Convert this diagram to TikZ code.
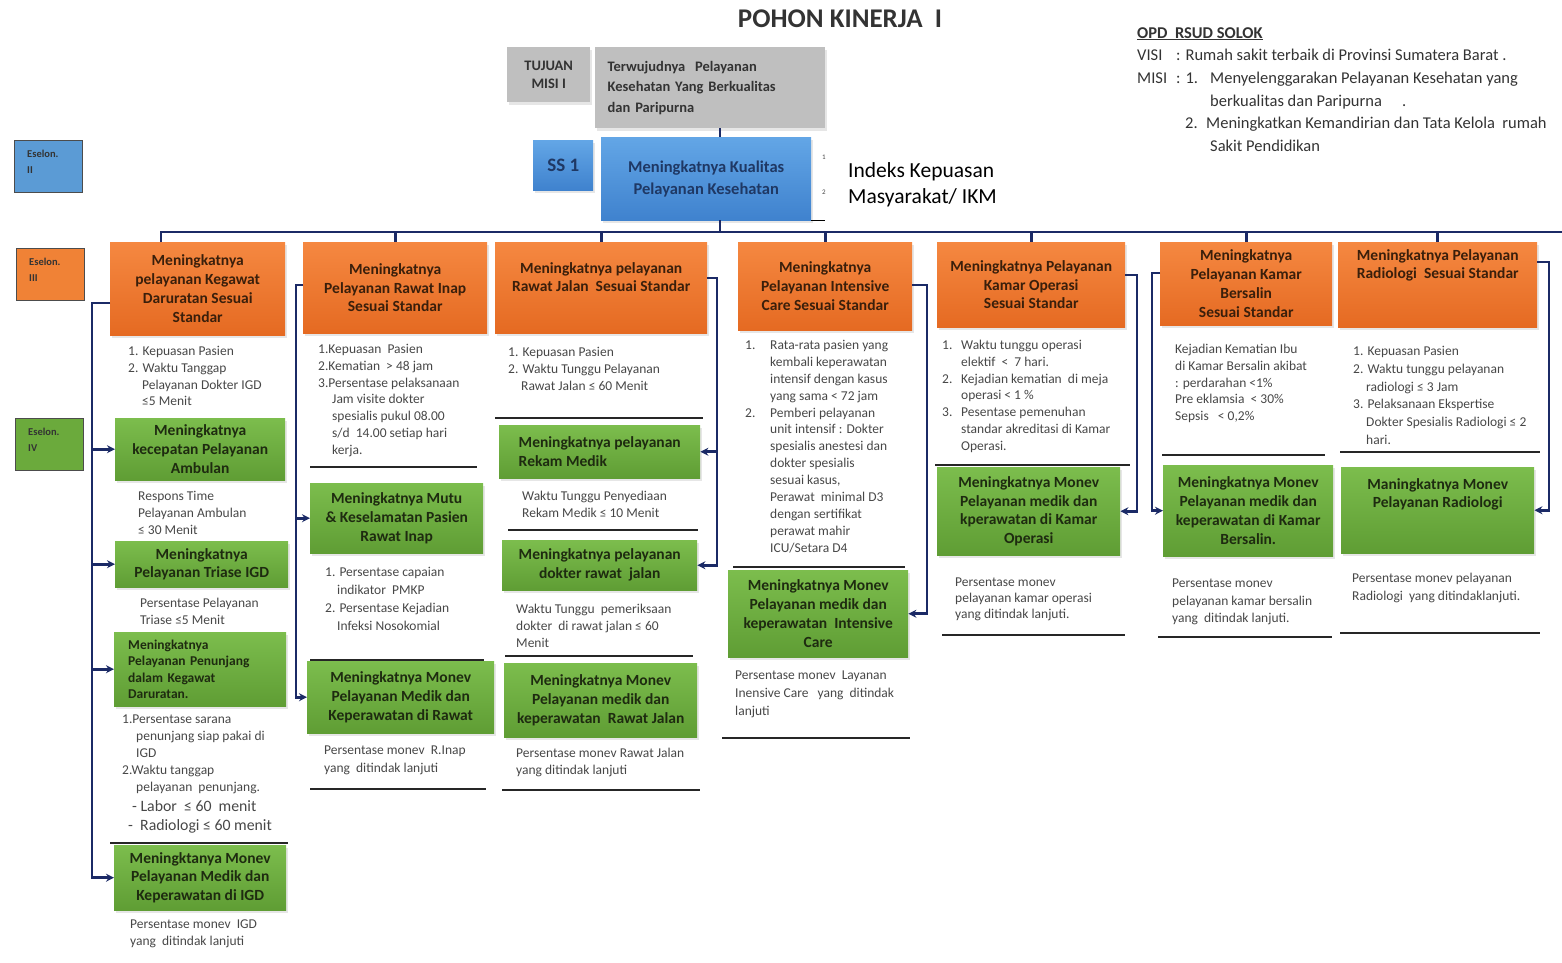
\documentclass[tikz,border=0pt]{standalone}
\usepackage{fontspec}
\setmainfont{Carlito}
\usetikzlibrary{arrows.meta,shadows}
\definecolor{oranyeA}{HTML}{F58841}
\definecolor{oranyeB}{HTML}{E56A22}
\definecolor{hijauA}{HTML}{7CBD4D}
\definecolor{hijauB}{HTML}{5F9D34}
\definecolor{biruA}{HTML}{63A6E6}
\definecolor{biruB}{HTML}{3F82CE}
\definecolor{biruE}{HTML}{5B9BD5}
\definecolor{oranyeE}{HTML}{F08236}
\definecolor{hijauE}{HTML}{6BAA3C}
\definecolor{abuK}{HTML}{BFBFBF}
\definecolor{navy}{HTML}{1B2A66}
\definecolor{teksO}{HTML}{3A1F0B}
\definecolor{teksH}{HTML}{1E2B10}
\definecolor{teksB}{HTML}{1F3864}
\definecolor{teksA}{HTML}{333333}
\definecolor{abuT}{HTML}{474747}
\newcommand{\nmr}[2][16pt]{\makebox[#1][l]{#2}}
\newcommand{\ssp}[1][16pt]{\hspace*{#1}}

\begin{document}
\begin{tikzpicture}[x=1pt,y=-1pt,
    kotak/.style={anchor=north west, inner sep=2pt, align=center,
      font=\fontsize{15.5}{18.8}\selectfont\bfseries,
      drop shadow={opacity=0.2,shadow xshift=1.5pt,shadow yshift=-2.5pt}},
    oranye/.style={kotak, top color=oranyeA, bottom color=oranyeB, text=teksO},
    hijau/.style={kotak, top color=hijauA, bottom color=hijauB, text=teksH},
    biru/.style={kotak, top color=biruA, bottom color=biruB, text=teksB},
    abu/.style={kotak, fill=abuK, text=teksA, font=\fontsize{14.5}{20.5}\selectfont\bfseries},
    kteks/.style={anchor=north, inner sep=0pt, align=center, font=\fontsize{15.5}{18.8}\selectfont\bfseries},
    eselon/.style={anchor=north west, draw=black!70, line width=1pt, minimum width=68, minimum height=52},
    eteks/.style={anchor=north west, inner sep=0pt, align=left, text=teksA, font=\fontsize{10.5}{16}\selectfont\bfseries},
    ket/.style={anchor=north west, inner sep=0pt, align=left, text=abuT, font=\fontsize{13.5}{16.8}\selectfont},
    garis/.style={line width=1.4pt, black!85},
    conn/.style={draw=navy, line width=2.8pt},
    panah/.style={conn, -{Stealth[length=8pt,width=8pt]}}]
\useasboundingbox (0,0) rectangle (1562,962);

% judul dan visi misi
\node[font=\fontsize{27}{30}\selectfont\bfseries, text=teksA] (judul) at (840,19) {POHON KINERJA\ \ I};
\node[anchor=north west, inner sep=0pt, align=left, text=teksA, font=\fontsize{16.5}{22.7}\selectfont] (visi) at (1137,27) {%
  \textbf{\underline{OPD\ \ RSUD SOLOK}}\\
  \makebox[39pt][l]{VISI}: Rumah sakit terbaik di Provinsi Sumatera Barat .\\
  \makebox[39pt][l]{MISI}\makebox[34pt][l]{: 1.}Menyelenggarakan Pelayanan Kesehatan yang\\
  \ssp[73pt]berkualitas dan Paripurna\quad\ .\\
  \ssp[48pt]\makebox[21pt][l]{2.}Meningkatkan Kemandirian dan Tata Kelola\ \ rumah\\
  \ssp[73pt]Sakit Pendidikan};

% eselon
\node[eselon, fill=biruE] (e2) at (14,140) {};
\node[eteks] (e2t) at ([shift={(13,10)}]e2.north west) {Eselon.\\ II};
\node[eselon, fill=oranyeE] (e3) at (16,248) {};
\node[eteks] (e3t) at ([shift={(13,10)}]e3.north west) {Eselon.\\ III};
\node[eselon, fill=hijauE] (e4) at (15,418) {};
\node[eteks] (e4t) at ([shift={(13,10)}]e4.north west) {Eselon.\\ IV};

% tujuan dan sasaran strategis
\node[abu, minimum width=83, minimum height=55, font=\fontsize{14.5}{18}\selectfont\bfseries] (tuj) at (507,47) {TUJUAN\\MISI I};
\node[abu, minimum width=230, minimum height=81, align=left, text width=205] (terw) at (595,47) {Terwujudnya\ \ Pelayanan\\Kesehatan Yang Berkualitas\\dan Paripurna};
\node[biru, minimum width=60, minimum height=50, font=\fontsize{19}{22}\selectfont\bfseries] (ss) at (533,140) {SS 1};
\node[biru, minimum width=210, minimum height=83, font=\fontsize{16.5}{22}\selectfont\bfseries] (kual) at (601,137) {Meningkatnya Kualitas\\Pelayanan Kesehatan};
\node[font=\fontsize{7}{8}\selectfont, text=abuT] (n1) at (824,157) {1};
\node[font=\fontsize{7}{8}\selectfont, text=abuT] (n2) at (824,192) {2};
\draw[line width=1pt] (kual.south east) -- ++(14,0);
\node[anchor=north west, inner sep=0pt, align=left, font=\fontsize{21.5}{26}\selectfont] (ikm) at (848,162) {Indeks Kepuasan\\Masyarakat/ IKM};

% kolom 1
\node[oranye, minimum width=175, minimum height=93] (o1) at (110,242) {Meningkatnya\\pelayanan Kegawat\\Daruratan Sesuai\\Standar};
\node[ket] (k1) at (128,346) {1. Kepuasan Pasien\\2. Waktu Tanggap\\\ssp[14pt]Pelayanan Dokter IGD\\\ssp[14pt]≤5 Menit};
\node[hijau, minimum width=170, minimum height=62] (g1a) at (115,418) {Meningkatnya\\kecepatan Pelayanan\\Ambulan};
\node[ket] (k1a) at (138,491) {Respons Time\\Pelayanan Ambulan\\≤ 30 Menit};
\node[hijau, minimum width=173, minimum height=46] (g1b) at (115,541) {Meningkatnya\\Pelayanan Triase IGD};
\node[ket] (k1b) at (140,598) {Persentase Pelayanan\\Triase ≤5 Menit};
\node[hijau, minimum width=172, minimum height=74, align=left, text width=144, font=\fontsize{13.5}{16.5}\selectfont\bfseries] (g1c) at (114,632) {Meningkatnya\\Pelayanan Penunjang\\dalam Kegawat\\Daruratan.};
\node[ket, font=\fontsize{13.5}{17}\selectfont] (k1c) at (122,715) {1.Persentase sarana\\\ssp[14pt]penunjang siap pakai di\\\ssp[14pt]IGD\\2.Waktu tanggap\\\ssp[14pt]pelayanan\ \ penunjang.};
\node[ket, font=\fontsize{15.8}{19.5}\selectfont] (k1d) at (128,800) {\ssp[4pt]- Labor\ \ ≤ 60\ \ menit\\-\ \ Radiologi\ ≤ 60 menit};
\draw[garis] (110,843) -- (288,843);
\node[hijau, minimum width=172, minimum height=65] (g1d) at (114,845) {Meningktanya Monev\\Pelayanan Medik dan\\Keperawatan di IGD};
\node[ket] (k1e) at (130,920) {Persentase monev\ \ IGD\\yang\ \ ditindak lanjuti};

% kolom 2
\node[oranye, minimum width=184, minimum height=91] (o2) at (303,242) {Meningkatnya\\Pelayanan Rawat Inap\\Sesuai Standar};
\node[ket] (k2) at (318,344) {1.Kepuasan\ \ Pasien\\2.Kematian\ \ > 48 jam\\3.Persentase pelaksanaan\\\ssp[14pt]Jam visite dokter\\\ssp[14pt]spesialis pukul 08.00\\\ssp[14pt]s/d\ \ 14.00 setiap hari\\\ssp[14pt]kerja.};
\draw[garis] (310,467) -- (477,467);
\node[hijau, minimum width=173, minimum height=70] (g2a) at (310,483) {Meningkatnya Mutu\\\& Keselamatan Pasien\\Rawat Inap};
\node[ket, font=\fontsize{13.5}{18}\selectfont] (k2a) at (325,567) {1. Persentase capaian\\\ssp[12pt]indikator\ \ PMKP\\2. Persentase Kejadian\\\ssp[12pt]Infeksi Nosokomial};
\draw[garis] (310,660) -- (484,660);
\node[hijau, minimum width=187, minimum height=72] (g2b) at (307,661) {Meningkatnya Monev\\Pelayanan Medik dan\\Keperawatan di Rawat};
\node[ket, font=\fontsize{13.5}{18}\selectfont] (k2b) at (324,746) {Persentase monev\ \ R.Inap\\yang\ \ ditindak lanjuti};
\draw[garis] (310,789) -- (486,789);

% kolom 3
\node[oranye, minimum width=212, minimum height=91] (o3) at (495,242) {};
\node[kteks, text=teksO] (o3t) at ([shift={(0,20)}]o3.north) {Meningkatnya pelayanan\\Rawat Jalan\ \ Sesuai Standar};
\node[ket] (k3) at (508,347) {1. Kepuasan Pasien\\2. Waktu Tunggu Pelayanan\\\ssp[13pt]Rawat Jalan ≤ 60 Menit};
\draw[garis] (495,418) -- (703,418);
\node[hijau, minimum width=201, minimum height=53, align=left] (g3a) at (499,425) {Meningkatnya pelayanan\\Rekam Medik};
\node[ket] (k3a) at (522,491) {Waktu Tunggu Penyediaan\\Rekam Medik ≤ 10 Menit};
\draw[garis] (508,530) -- (698,530);
\node[hijau, minimum width=195, minimum height=50] (g3b) at (502,540) {Meningkatnya pelayanan\\dokter rawat\ \ jalan};
\node[ket] (k3b) at (516,604) {Waktu Tunggu\ \ pemeriksaan\\dokter\ \ di rawat jalan ≤ 60\\Menit};
\draw[garis] (505,656) -- (693,656);
\node[hijau, minimum width=193, minimum height=74] (g3c) at (504,663) {Meningkatnya Monev\\Pelayanan medik dan\\keperawatan\ \ Rawat Jalan};
\node[ket] (k3c) at (516,748) {Persentase monev Rawat Jalan\\yang ditindak lanjuti};
\draw[garis] (502,790) -- (700,790);

% kolom 4
\node[oranye, minimum width=174, minimum height=88] (o4) at (738,242) {Meningkatnya\\Pelayanan Intensive\\Care Sesuai Standar};
\node[ket, font=\fontsize{13.5}{16.9}\selectfont] (k4) at (745,340) {\nmr[25pt]{1.}Rata-rata pasien yang\\\ssp[25pt]kembali keperawatan\\\ssp[25pt]intensif dengan kasus\\\ssp[25pt]yang sama < 72 jam\\\nmr[25pt]{2.}Pemberi pelayanan\\\ssp[25pt]unit intensif : Dokter\\\ssp[25pt]spesialis anestesi dan\\\ssp[25pt]dokter spesialis\\\ssp[25pt]sesuai kasus,\\\ssp[25pt]Perawat\ \ minimal D3\\\ssp[25pt]dengan sertifikat\\\ssp[25pt]perawat mahir\\\ssp[25pt]ICU/Setara D4};
\draw[garis] (733,567) -- (905,567);
\node[hijau, minimum width=180, minimum height=87] (g4a) at (728,570) {Meningkatnya Monev\\Pelayanan medik dan\\keperawatan\ \ Intensive\\Care};
\node[ket, font=\fontsize{13.5}{18}\selectfont] (k4a) at (735,671) {Persentase monev\ \ Layanan\\Inensive Care\ \ \ yang\ \ ditindak\\lanjuti};
\draw[garis] (722,738) -- (910,738);

% kolom 5
\node[oranye, minimum width=188, minimum height=85] (o5) at (937,242) {Meningkatnya Pelayanan\\Kamar Operasi\\Sesuai Standar};
\node[ket] (k5) at (942,340) {\nmr[19pt]{1.}Waktu tunggu operasi\\\ssp[19pt]elektif\ \ <\ \ 7 hari.\\\nmr[19pt]{2.}Kejadian kematian\ \ di meja\\\ssp[19pt]operasi < 1 \%\\\nmr[19pt]{3.}Pesentase pemenuhan\\\ssp[19pt]standar akreditasi di Kamar\\\ssp[19pt]Operasi.};
\draw[garis] (935,465) -- (1130,465);
\node[hijau, minimum width=183, minimum height=88] (g5a) at (937,467) {Meningkatnya Monev\\Pelayanan medik dan\\kperawatan di Kamar\\Operasi};
\node[ket, font=\fontsize{13.5}{16}\selectfont] (k5a) at (955,578) {Persentase monev\\pelayanan kamar operasi\\yang ditindak lanjuti.};
\draw[garis] (942,635) -- (1125,635);

% kolom 6
\node[oranye, minimum width=172, minimum height=83] (o6) at (1160,242) {Meningkatnya\\Pelayanan Kamar\\Bersalin\\Sesuai Standar};
\node[ket] (k6) at (1175,344) {Kejadian Kematian Ibu\\di Kamar Bersalin akibat\\: perdarahan <1\%\\Pre eklamsia\ \ < 30\%\\Sepsis\ \ \ < 0,2\%};
\draw[garis] (1162,455) -- (1325,455);
\node[hijau, minimum width=170, minimum height=91] (g6a) at (1163,465) {Meningkatnya Monev\\Pelayanan medik dan\\keperawatan di Kamar\\Bersalin.};
\node[ket, font=\fontsize{13.5}{17.5}\selectfont] (k6a) at (1172,579) {Persentase monev\\pelayanan kamar bersalin\\yang\ \ ditindak lanjuti.};
\draw[garis] (1158,637) -- (1332,637);

% kolom 7
\node[oranye, minimum width=199, minimum height=85] (o7) at (1338,242) {};
\node[kteks, text=teksO] (o7t) at ([shift={(0,7)}]o7.north) {Meningkatnya Pelayanan\\Radiologi\ \ Sesuai Standar};
\node[ket, font=\fontsize{13.5}{17.8}\selectfont] (k7) at (1353,346) {1. Kepuasan Pasien\\2. Waktu tunggu pelayanan\\\ssp[13pt]radiologi ≤ 3 Jam\\3. Pelaksanaan Ekspertise\\\ssp[13pt]Dokter Spesialis Radiologi ≤ 2\\\ssp[13pt]hari.};
\draw[garis] (1340,452) -- (1540,452);
\node[hijau, minimum width=193, minimum height=86] (g7a) at (1341,467) {};
\node[kteks, text=teksH] (g7at) at ([shift={(0,11)}]g7a.north) {Maningkatnya Monev\\Pelayanan Radiologi};
\node[ket, font=\fontsize{13.5}{18}\selectfont] (k7a) at (1352,573) {Persentase monev pelayanan\\Radiologi\ \ yang ditindaklanjuti.};
\draw[garis] (1340,633) -- (1540,633);

% garis penghubung
\coordinate (stem) at (720,232);
\coordinate (busL) at (161,232);
\coordinate (busR) at (1562,232);
\draw[conn] (terw.south -| stem) -- (kual.north -| stem);
\draw[conn] (kual.south -| stem) -- (stem);
\draw[conn] (busL |- o1.north) -- (busL) -- (busR);
\draw[conn] (o2.north |- busL) -- (o2.north);
\draw[conn] (o3.north |- busL) -- (o3.north);
\draw[conn] (o4.north |- busL) -- (o4.north);
\draw[conn] (o5.north |- busL) -- (o5.north);
\draw[conn] (o6.north |- busL) -- (o6.north);
\draw[conn] (o7.north |- busL) -- (o7.north);

\coordinate (k1) at (92,303);
\draw[panah] (o1.west |- k1) -- (k1) |- (g1d.west);
\draw[panah] (k1 |- g1a.west) -- (g1a.west);
\draw[panah] (k1 |- g1b.west) -- (g1b.west);
\draw[panah] (k1 |- g1c.west) -- (g1c.west);
\coordinate (k2) at (296,285);
\draw[panah] (o2.west |- k2) -- (k2) |- (g2b.west);
\draw[panah] (k2 |- g2a.west) -- (g2a.west);
\coordinate (k3) at (717,278);
\draw[panah] (o3.east |- k3) -- (k3) |- (g3b.east);
\draw[panah] (k3 |- g3a.east) -- (g3a.east);
\coordinate (k4) at (927,285);
\draw[panah] (o4.east |- k4) -- (k4) |- (g4a.east);
\coordinate (k5) at (1137,275);
\draw[panah] (o5.east |- k5) -- (k5) |- (g5a.east);
\coordinate (k6) at (1152,273);
\draw[panah] (o6.west |- k6) -- (k6) |- (g6a.west);
\coordinate (k7) at (1549,262);
\draw[panah] (o7.east |- k7) -- (k7) |- (g7a.east);
\end{tikzpicture}
\end{document}
